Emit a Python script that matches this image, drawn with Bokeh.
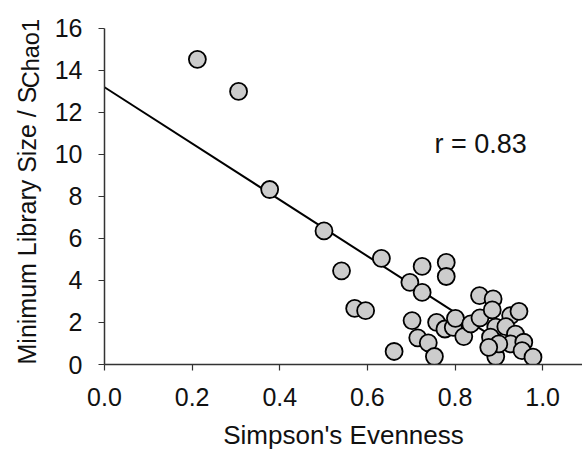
import math
from bokeh.plotting import figure
from bokeh.layouts import row
from bokeh.models import Label, Range1d, FixedTicker
from bokeh.core.properties import value
from bokeh.embed import file_html
from bokeh.resources import INLINE

# data
evenness = [0.212, 0.306, 0.377, 0.501, 0.541, 0.632, 0.571, 0.596, 0.661, 0.697,
            0.702, 0.725, 0.725, 0.780, 0.780, 0.715, 0.739, 0.753, 0.758, 0.777,
            0.796, 0.801, 0.820, 0.836, 0.857, 0.856, 0.887, 0.885, 0.927, 0.946,
            0.893, 0.916, 0.881, 0.938, 0.927, 0.957, 0.893, 0.953, 0.978, 0.900, 0.877]
min_lib = [14.53, 13.0, 8.33, 6.36, 4.46, 5.05, 2.67, 2.56, 0.62, 3.91,
           2.09, 4.67, 3.43, 4.86, 4.19, 1.27, 1.03, 0.38, 2.01, 1.69,
           1.77, 2.2, 1.33, 1.93, 2.22, 3.28, 3.12, 2.6, 2.33, 2.53,
           1.78, 1.8, 1.3, 1.45, 0.98, 1.06, 0.38, 0.66, 0.35, 0.98, 0.82]
fit_intercept = 13.2
fit_slope = -13.4
fit_x = [0.0, 0.9]
fit_y = [fit_intercept + fit_slope * v for v in fit_x]
x_ticks = [0.0, 0.2, 0.4, 0.6, 0.8, 1.0]
y_ticks = [0, 2, 4, 6, 8, 10, 12, 14, 16]
r_text = "r = 0.83"
y_title = "Minimum Library Size / S"
y_title_sub = "Chao1"
x_title = "Simpson's Evenness"

FONT = "Liberation Sans"
H = 453
LEFT_W = 44

yr = Range1d(0, 16.9)

p = figure(width=582 - LEFT_W, height=H, output_backend="svg", toolbar_location=None,
           x_range=Range1d(0, 1.091), y_range=yr,
           min_border_left=104 - LEFT_W, min_border_right=0, min_border_top=9,
           min_border_bottom=89)
p.outline_line_color = None
p.xgrid.visible = False
p.ygrid.visible = False

for ax in (p.xaxis[0], p.yaxis[0]):
    ax.axis_line_color = "#333333"
    ax.axis_line_width = 1.5
    ax.major_tick_line_color = "#333333"
    ax.major_tick_line_width = 1.2
    ax.major_tick_out = 6
    ax.major_tick_in = 0
    ax.minor_tick_line_color = None
    ax.major_label_text_font = FONT
    ax.major_label_text_font_size = "25px"
    ax.major_label_text_color = "#111111"

p.yaxis[0].bounds = (0, 16)
p.xaxis[0].ticker = FixedTicker(ticks=x_ticks)
p.yaxis[0].ticker = FixedTicker(ticks=y_ticks)
p.xaxis[0].major_label_overrides = {t_: f"{t_:.1f}" for t_ in x_ticks}
p.xaxis[0].major_label_standoff = 17
p.yaxis[0].major_label_standoff = 16

p.xaxis[0].axis_label = x_title
p.xaxis[0].axis_label_text_font = FONT
p.xaxis[0].axis_label_text_font_size = "26px"
p.xaxis[0].axis_label_text_font_style = "normal"
p.xaxis[0].axis_label_text_color = "#111111"
p.xaxis[0].axis_label_standoff = 11

p.line(fit_x, fit_y, line_color="black", line_width=2)
p.scatter(evenness, min_lib, size=17, fill_color="#cccccc", line_color="black", line_width=1.8)

p.add_layout(Label(x=0.753, y=10.52, text=r_text, text_font=FONT, text_font_size="27px",
                   text_color="#111111", text_align="left", text_baseline="middle"))

# narrow panel holding the rotated y-axis title; shares the main y range
t = figure(width=LEFT_W, height=H, output_backend="svg", toolbar_location=None,
           x_range=Range1d(0, LEFT_W), y_range=yr,
           min_border_left=0, min_border_right=0, min_border_top=9, min_border_bottom=89,
           x_axis_location=None, y_axis_location=None)
t.outline_line_color = None
t.grid.visible = False
t.text(x=[26.5], y=[0.0], text=[y_title], angle=math.pi / 2,
       text_font=value(FONT), text_font_size="25px", text_color="#111111",
       text_align="left", text_baseline="middle")
t.text(x=[30.5], y=[13.15], text=[y_title_sub], angle=math.pi / 2,
       text_font=value(FONT), text_font_size="23.5px", text_color="#111111",
       text_align="left", text_baseline="middle")

open("out.html", "w").write(file_html(row(t, p), INLINE))
